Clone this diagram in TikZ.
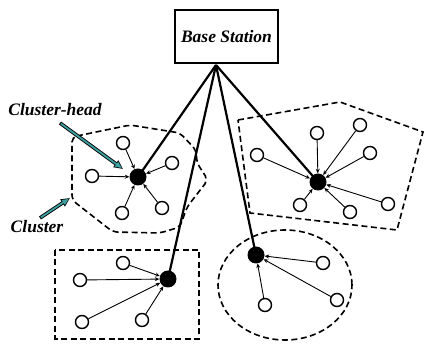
\documentclass[tikz,border=0pt]{standalone}
\usepackage{fontspec}
\setmainfont{Liberation Serif}
\usetikzlibrary{arrows.meta}
\definecolor{pointer}{RGB}{60,160,160}
\tikzset{
  member/.style={circle,draw,line width=1.4pt,minimum size=13pt,inner sep=0pt},
  head/.style={circle,fill,minimum size=17pt,inner sep=0pt},
  uplink/.style={line width=2.2pt},
  link/.style={line width=0.9pt,-{Stealth[length=4.5pt,width=4pt]}},
  border/.style={line width=1.6pt,dash pattern=on 6pt off 3.5pt},
  tag/.style={font=\fontsize{17.5}{20}\selectfont\bfseries\itshape},
}
\begin{document}
\begin{tikzpicture}[x=1pt,y=-1pt]
  \useasboundingbox (0,0) rectangle (424,344);
  \node[draw,line width=1.3pt,minimum width=103pt,minimum height=53pt,tag] (bs) at (226.5,36.5) {Base Station};
  \coordinate (bsfoot) at (216,65);
  % cluster borders
  \draw[border,rounded corners=5pt] (72,137) -- (130,125) -- (180,133) -- (196,150) -- (197,163)
    -- (208,180) -- (187,207) -- (180,227) -- (160,233) -- (113,232) -- (72,200) -- cycle;
  \draw[border] (238,120) -- (340,102) -- (423,132) -- (397,230) -- (250,213) -- cycle;
  \draw[border] (55,250) rectangle (199,339);
  \draw[border] (285,285) ellipse [x radius=67pt,y radius=55pt];
  % cluster heads
  \node[head] (h1) at (138,177) {};
  \node[head] (h2) at (318,182) {};
  \node[head] (h3) at (168,279) {};
  \node[head] (h4) at (256,255) {};
  \foreach \h in {h1,h2,h3,h4} \draw[uplink] (bsfoot) -- (\h.center);
  % members
  \foreach \n/\x/\y/\h in {a1/123/143/h1, a2/172/163/h1, a3/92/176/h1, a4/122/213/h1, a5/162/208/h1,
      b1/317/133/h2, b2/360/125/h2, b3/370/153/h2, b4/257/155/h2, b5/388/204/h2, b6/350/212/h2, b7/300/205/h2,
      c1/123/263/h3, c2/80/280/h3, c3/82/322/h3, c4/142/320/h3,
      d1/323/263/h4, d2/337/300/h4, d3/265/305/h4}{
    \node[member] (\n) at (\x,\y) {};
    \draw[link] (\n) -- (\h);
  }
  % labels and pointers
  \node[tag] (chtag) at (55,110) {Cluster-head};
  \node[tag] (cltag) at (37,227) {Cluster};
  \coordinate (chfrom) at (60,123);
  \coordinate (chto) at (123,169);
  \coordinate (clfrom) at (40,218);
  \coordinate (clto) at (70,198);
  \foreach \p/\q in {chfrom/chto, clfrom/clto}{
    \draw[line width=3.6pt,-{Triangle[length=9pt,width=8pt]}] (\p) -- (\q);
    \draw[pointer,line width=1.8pt,shorten <=1pt,shorten >=1.6pt,-{Triangle[length=6.5pt,width=5.5pt]}] (\p) -- (\q);
  }
\end{tikzpicture}
\end{document}
